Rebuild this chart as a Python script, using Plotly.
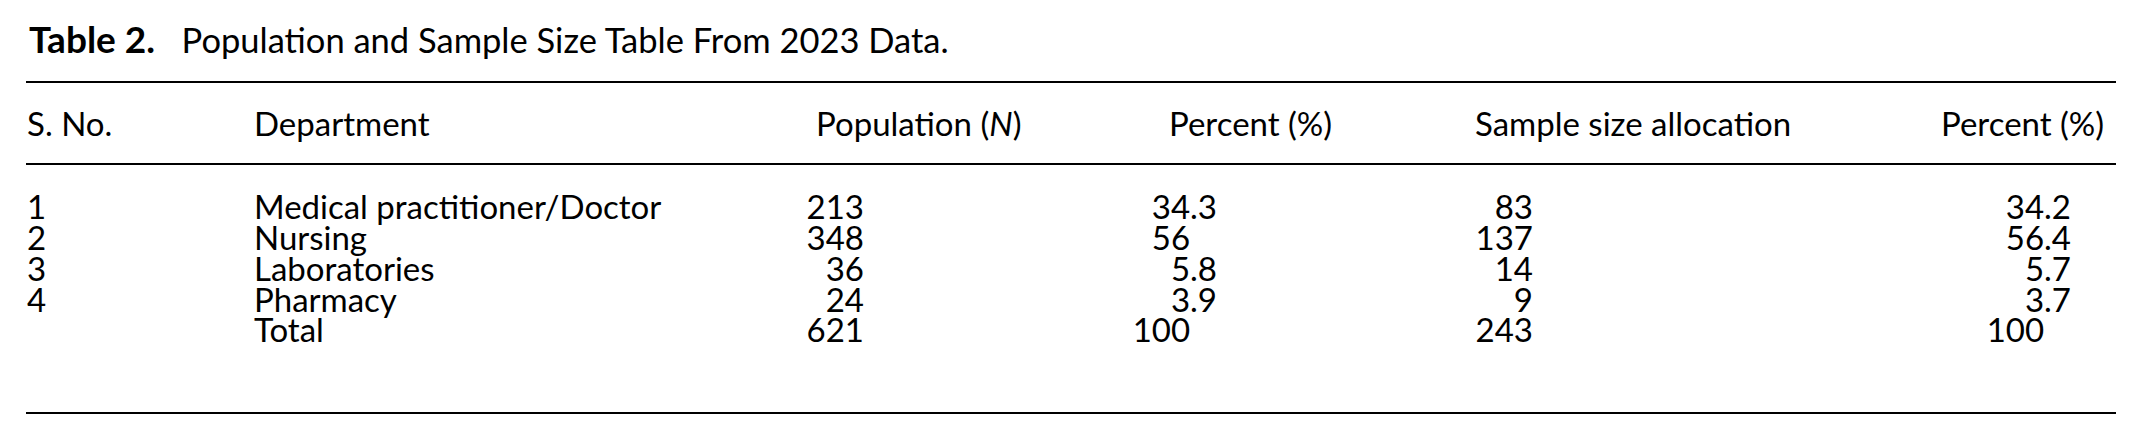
import plotly.graph_objects as go

# ------------------------------------------------------------------ data
s_no = ["1", "2", "3", "4", ""]
department = ["Medical practitioner/Doctor", "Nursing", "Laboratories", "Pharmacy", "Total"]
population = [213, 348, 36, 24, 621]
population_pct = [34.3, 56, 5.8, 3.9, 100]
sample_size = [83, 137, 14, 9, 243]
sample_pct = [34.2, 56.4, 5.7, 3.7, 100]

headers = ["S. No.", "Department", "Population (<i>N</i>)", "Percent (%)",
           "Sample size allocation", "Percent (%)"]
title_bold = "Table 2."
title_text = "Population and Sample Size Table From 2023 Data."

# ------------------------------------------------------------------ layout constants
W, H = 2142, 441
OFF = 8          # page body margin, axis range is shifted so data units = page pixels
FONT = "Lato"
SIZE = 33
row_y = [211 + 30.8 * i for i in range(len(department))]
header_y = 128
left = 27
right = 2116


def pct_text(v):
    # decimal alignment: integers get an invisible ".0" tail
    if float(v).is_integer():
        return f"{int(v)}<span style='color:rgba(0,0,0,0)'>.0</span>"
    return f"{v}"


fig = go.Figure()
tf = dict(family=FONT, size=SIZE, color="black")

# left aligned text columns
for xs, vals in [(left, s_no), (254, department)]:
    fig.add_trace(go.Scatter(x=[xs] * len(vals), y=row_y, text=vals, mode="text",
                             textposition="middle right", textfont=tf, hoverinfo="skip"))

# right aligned number columns
for xs, vals in [(864, [str(v) for v in population]),
                 (1217, [pct_text(v) for v in population_pct]),
                 (1533, [str(v) for v in sample_size]),
                 (2071, [pct_text(v) for v in sample_pct])]:
    fig.add_trace(go.Scatter(x=[xs] * len(vals), y=row_y, text=vals, mode="text",
                             textposition="middle left", textfont=tf, hoverinfo="skip"))

# header row
header_x = [left, 254, 816, 1169, 1475, 1941]
fig.add_trace(go.Scatter(x=header_x, y=[header_y] * len(headers), text=headers, mode="text",
                         textposition="middle right", textfont=tf, hoverinfo="skip"))

# rules
for yy in [82, 164, 413]:
    fig.add_shape(type="line", x0=left - 1, x1=right, y0=yy, y1=yy,
                  line=dict(color="black", width=2))

fig.add_annotation(x=left, y=38, xref="x", yref="y", xanchor="left", yanchor="middle",
                   text=(f"<span style='font-size:37px'><b>{title_bold}</b></span>"
                         f"\u00a0\u00a0\u00a0{title_text}"),
                   showarrow=False, font=dict(family=FONT, size=34.5, color="black"))

fig.update_layout(
    width=W, height=H,
    margin=dict(l=0, r=0, t=0, b=0),
    paper_bgcolor="white", plot_bgcolor="white",
    showlegend=False,
    xaxis=dict(range=[OFF, W + OFF], visible=False, fixedrange=True),
    yaxis=dict(range=[H + OFF, OFF], visible=False, fixedrange=True),
)

fig.write_html("out.html", config={"displayModeBar": False})
